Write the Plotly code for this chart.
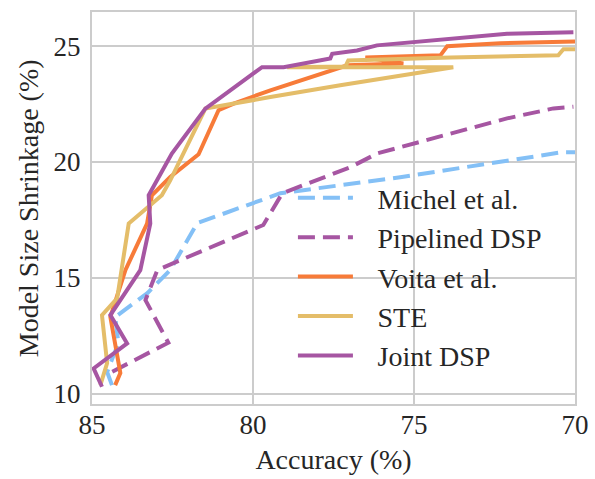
import plotly.graph_objects as go

# Data (Accuracy %, Model Size Shrinkage %)
michel_acc = [84.38, 84.53, 84.18, 84.28, 83.28, 82.57, 81.73, 79.15, 75.43, 72.9, 70.4, 70.0]
michel_shr = [10.37, 10.94, 12.19, 13.31, 14.34, 15.34, 17.36, 18.65, 19.34, 19.9, 20.42, 20.42]

pipe_acc = [84.37, 82.63, 83.34, 82.97, 79.68, 79.09, 76.98, 76.14, 72.11, 70.67, 70.05]
pipe_shr = [10.95, 12.2, 14.04, 15.34, 17.28, 18.65, 19.77, 20.37, 21.88, 22.31, 22.38]

voita_acc = [84.28, 84.12, 84.43, 83.96, 83.29, 83.14, 82.57, 81.69, 81.07, 80.6, 79.46,
             77.07, 75.33, 76.51, 74.18, 73.97, 72.32, 70.0]
voita_shr = [10.37, 10.89, 13.31, 15.34, 17.34, 18.56, 19.35, 20.33, 22.23, 22.52, 23.09,
             24.17, 24.25, 24.51, 24.6, 24.99, 25.12, 25.2]

ste_acc = [84.74, 84.53, 84.69, 84.22, 83.86, 83.45, 82.83, 82.57, 81.48, 79.46, 77.29,
           73.78, 78.94, 77.13, 77.04, 73.87, 70.52, 70.36, 70.0]
ste_shr = [10.37, 11.32, 13.39, 14.11, 17.34, 17.84, 18.56, 19.21, 22.3, 22.8, 23.31,
           24.09, 24.09, 24.12, 24.38, 24.51, 24.6, 24.86, 24.86]

joint_acc = [84.69, 84.95, 83.91, 84.43, 83.5, 83.19, 83.24, 82.52, 81.48, 79.72, 79.05,
             77.6, 77.54, 76.77, 76.15, 73.87, 72.11, 70.05]
joint_shr = [10.3, 11.09, 12.17, 13.39, 15.33, 17.34, 18.56, 20.36, 22.3, 24.09, 24.09,
             24.46, 24.67, 24.81, 25.03, 25.32, 25.53, 25.6]

series_names = ["Michel et al.", "Pipelined DSP", "Voita et al.", "STE", "Joint DSP"]
x_ticks = [85, 80, 75, 70]
y_ticks = [10, 15, 20, 25]

FONT = "Times New Roman, Liberation Serif, DejaVu Serif, serif"
TXT = "#262626"
GAP = "\u2002\u2009"  # visual gap between legend swatch and label

styles = [("#84c0f6", "17px,8px"), ("#a656a2", "17px,8px"), ("#f77b39", "solid"),
          ("#e4bd69", "solid"), ("#a656a2", "solid")]
data = [(michel_acc, michel_shr), (pipe_acc, pipe_shr), (voita_acc, voita_shr),
        (ste_acc, ste_shr), (joint_acc, joint_shr)]

fig = go.Figure()
for i, (name, (xs, ys), (col, dash)) in enumerate(zip(series_names, data, styles)):
    fig.add_trace(go.Scatter(
        x=xs, y=ys, mode="lines", name=GAP + name, legendgroup=f"g{i}",
        line=dict(color=col, width=4, dash=dash),
    ))

fig.update_layout(
    width=595, height=479,
    margin=dict(l=92, r=20, t=12, b=75),
    paper_bgcolor="white", plot_bgcolor="white",
    font=dict(family=FONT, size=27, color=TXT),
    showlegend=True,
    legend=dict(
        x=0.416, y=0.589, xanchor="left", yanchor="top",
        bgcolor="rgba(255,255,255,0)", borderwidth=0,
        font=dict(family=FONT, size=28, color=TXT),
        tracegroupgap=0, itemwidth=55,
    ),
    xaxis=dict(
        range=[85, 70], tickvals=x_ticks, ticktext=[str(v) for v in x_ticks],
        showgrid=True, gridcolor="#cccccc", gridwidth=2,
        showline=True, linecolor="#cccccc", linewidth=2, mirror=True,
        zeroline=False, ticks="", ticklen=0, automargin=False,
        ticklabelstandoff=-4,
        tickfont=dict(family=FONT, size=27, color=TXT),
        title=dict(text="Accuracy (%)", font=dict(family=FONT, size=28, color=TXT), standoff=10),
    ),
    yaxis=dict(
        range=[9.556, 26.47], tickvals=y_ticks, ticktext=[str(v) for v in y_ticks],
        showgrid=True, gridcolor="#cccccc", gridwidth=2,
        showline=True, linecolor="#cccccc", linewidth=2, mirror=True,
        zeroline=False, ticks="", ticklen=0, automargin=False,
        ticklabelstandoff=4,
        tickfont=dict(family=FONT, size=27, color=TXT),
    ),
    annotations=[dict(
        text="Model Size Shrinkage (%)", textangle=-90, showarrow=False,
        xref="paper", yref="paper", x=-0.132, y=0.5, xanchor="center", yanchor="middle",
        font=dict(family=FONT, size=28, color=TXT),
    )],
)

fig.write_html(
    "out.html",
    config={"displayModeBar": False},
    post_script="document.body.style.margin='0';document.body.style.overflow='hidden';",
)
